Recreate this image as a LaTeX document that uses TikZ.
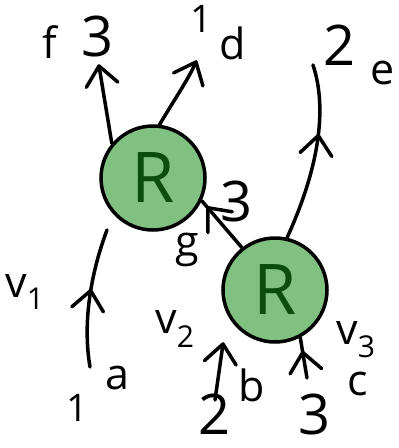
\documentclass[tikz,border=0pt]{standalone}
\usepackage{fontspec}
\setmainfont{Open Sans}
\usetikzlibrary{decorations.markings}
\definecolor{rfill}{HTML}{80C080}
\definecolor{rtext}{HTML}{0B4D0B}
\begin{document}
\begin{tikzpicture}[x=1pt,y=-1pt,
 rbox/.style={circle,draw=black,line width=3.5pt,fill=rfill,minimum size=104pt,inner sep=0pt,text=rtext,font=\fontsize{70}{70}\selectfont},
 wire/.style={line width=3.5pt,line cap=round},
 chev/.style={postaction={decorate},decoration={markings,mark=at position #1 with {\draw[line width=3.5pt,line cap=round,line join=round] (-19pt,16pt) -- (0pt,0pt) -- (-19pt,-16pt);}}},
 lbl/.style={font=\fontsize{43}{43}\selectfont,inner sep=0pt},
 num/.style={font=\fontsize{56}{56}\selectfont,inner sep=0pt}]
\useasboundingbox (0,0) rectangle (399,448);
\node[rbox] (RA) at (153,178) {R};
\node[rbox] (RB) at (275,290) {R};
\coordinate (fT) at (99,66);
\coordinate (dT) at (196,62);
\coordinate (eT) at (313,65);
\coordinate (aB) at (90,367);
\coordinate (aT) at (107,230);
\coordinate (bB) at (215,400);
\coordinate (bT) at (223,344);
\coordinate (cB) at (307,378);
\draw[wire,chev=1] (RA.140) -- (fT);
\draw[wire,chev=1] (RA.83) .. controls (174,100) and (188,80) .. (dT);
\draw[wire,chev=0.6] (RB.77) .. controls (318,170) and (328,110) .. (eT);
\draw[wire,chev=0.85] (RB.128) -- (RA.-25);
\draw[wire,chev=0.55] (aB) .. controls (82,320) and (92,270) .. (aT);
\draw[wire,chev=1] (bB) -- (bT);
\draw[wire,chev=0.63] (cB) -- (RB.-62);
\node[lbl] (lf) at (50,42) {f};
\node[num] (l3a) at (98,36) {3};
\node[lbl,font=\fontsize{38}{38}\selectfont] (l1a) at (201,19) {1};
\node[lbl] (ld) at (233,43) {d};
\node[num] (l2a) at (340,45) {2};
\node[lbl] (le) at (383,73) {e};
\node[num] (l3b) at (237,201) {3};
\node[lbl] (lg) at (187,250) {g};
\node[lbl] (lv1) at (25,292) {v\textsubscript{1}};
\node[lbl] (la) at (117,378) {a};
\node[lbl,font=\fontsize{38}{38}\selectfont] (l1b) at (77,408) {1};
\node[lbl] (lv2) at (175,329) {v\textsubscript{2}};
\node[lbl] (lb) at (252,385) {b};
\node[num] (l2b) at (215,414) {2};
\node[lbl] (lv3) at (356,340) {v\textsubscript{3}};
\node[lbl] (lc) at (358,384) {c};
\node[num] (l3c) at (315,414) {3};
\end{tikzpicture}
\end{document}
